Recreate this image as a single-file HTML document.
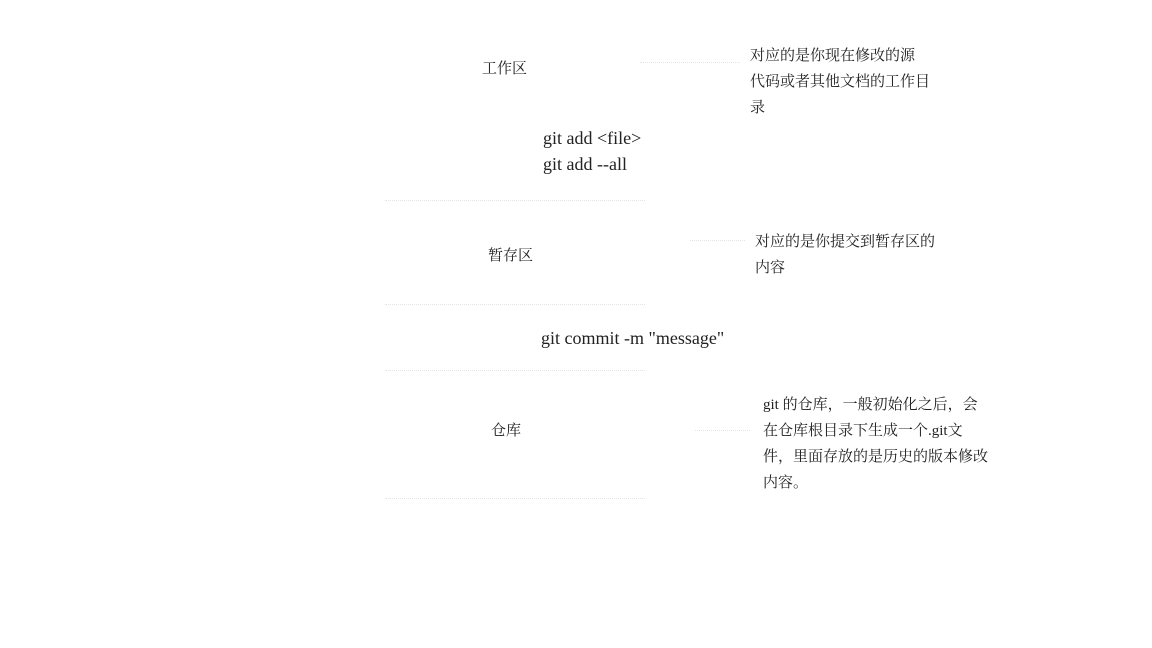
<!DOCTYPE html>
<html><head><meta charset="utf-8">
<style>
html,body{margin:0;padding:0;background:#fff;}
body{width:1152px;height:648px;position:relative;overflow:hidden;font-family:"Liberation Serif","Noto Serif CJK SC",serif;color:#222;font-size:15px;}
.t{position:absolute;white-space:nowrap;line-height:26px;}
.g{font-size:18px;}
.l{position:absolute;border-top:1px dotted #e4e4e4;height:0;}
</style></head><body>
<div class="t" style="left:482px;top:56px;">工作区</div>
<div class="t" style="left:750px;top:43px;">对应的是你现在修改的源<br>代码或者其他文档的工作目<br>录</div>
<div class="t g" style="left:543px;top:125px;">git add &lt;file&gt;<br>git add --all</div>
<div class="t" style="left:488px;top:243px;">暂存区</div>
<div class="t" style="left:755px;top:229px;">对应的是你提交到暂存区的<br>内容</div>
<div class="t g" style="left:541px;top:325px;">git commit -m "message"</div>
<div class="t" style="left:491px;top:418px;">仓库</div>
<div class="t" style="left:763px;top:392px;">git 的仓库，一般初始化之后，会<br>在仓库根目录下生成一个.git文<br>件，里面存放的是历史的版本修改<br>内容。</div>
<div class="l" style="left:640px;top:62px;width:100px;"></div>
<div class="l" style="left:690px;top:240px;width:55px;"></div>
<div class="l" style="left:695px;top:430px;width:55px;"></div>
<div class="l" style="left:385px;top:200px;width:260px;"></div>
<div class="l" style="left:385px;top:304px;width:260px;"></div>
<div class="l" style="left:385px;top:370px;width:260px;"></div>
<div class="l" style="left:385px;top:498px;width:260px;"></div>
</body></html>
